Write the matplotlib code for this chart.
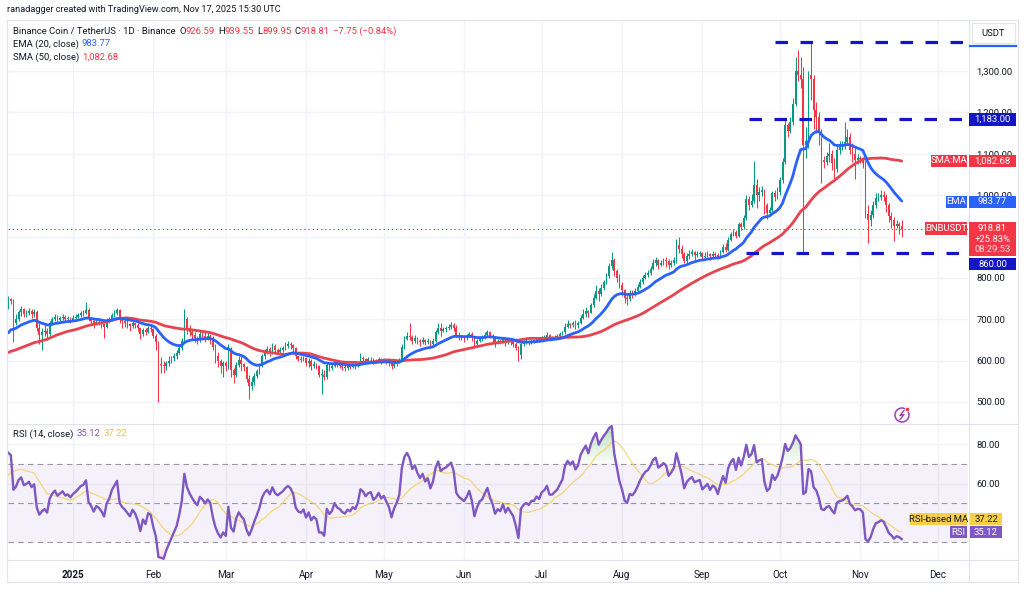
import numpy as np
import pandas as pd
import matplotlib
matplotlib.use("Agg")
import matplotlib.pyplot as plt
from matplotlib.patches import Rectangle, Circle
from matplotlib.transforms import IdentityTransform

# ---------------- data ----------------
start_date = "2024-12-07"
first_open = 730

# daily closes Oct 18 - Dec 6 2024 (indicator warm-up, not drawn)
warmup_closes = [600, 598, 605, 598, 595, 598, 600,
                 585, 590, 595, 600, 603, 598, 580,
                 575, 570, 555, 560, 570, 575, 590,
                 595, 600, 610, 625, 640, 630, 610,
                 615, 610, 608, 620, 615, 622, 630,
                 635, 640, 620, 610, 615, 625, 640,
                 650, 658, 655, 650, 670, 740, 720, 730]

closes = [748, 745, 692, 700, 718, 725, 712,
          715, 720, 712, 718, 678, 662, 668,
          672, 665, 690, 700, 706, 698, 702,
          706, 700, 702, 698, 703, 706, 710,
          714, 716, 722, 700, 695, 688, 694,
          692, 688, 682, 695, 700, 710, 716,
          722, 700, 695, 692, 688, 684, 690,
          686, 678, 664, 674, 668, 678, 676,
          660, 645, 592, 590, 586, 594, 600,
          606, 612, 618, 630, 648, 700, 680,
          670, 662, 655, 650, 664, 660, 654,
          660, 655, 632, 612, 598, 588, 594,
          586, 628, 578, 566, 590, 602, 592,
          584, 556, 538, 548, 562, 574, 588,
          610, 622, 628, 620, 636, 626, 622,
          626, 630, 636, 640, 637, 630, 610,
          604, 602, 606, 594, 600, 588, 592,
          588, 566, 566, 560, 590, 582, 586,
          596, 590, 588, 584, 582, 586, 584,
          588, 586, 592, 606, 604, 600, 603,
          604, 598, 600, 604, 600, 602, 598,
          594, 586, 592, 596, 602, 632, 652,
          660, 656, 648, 654, 648, 644, 650,
          644, 648, 640, 648, 668, 680, 672,
          676, 678, 682, 686, 680, 662, 658,
          656, 654, 658, 664, 656, 640, 648,
          654, 656, 662, 668, 660, 654, 644,
          648, 646, 652, 644, 648, 644, 640,
          630, 614, 640, 644, 646, 644, 648,
          648, 652, 650, 656, 658, 662, 656,
          656, 658, 660, 664, 668, 682, 688,
          686, 690, 686, 690, 704, 712, 720,
          716, 735, 752, 768, 760, 775, 790,
          805, 828, 842, 816, 800, 782, 770,
          752, 748, 764, 762, 768, 778, 790,
          800, 808, 812, 822, 836, 842, 832,
          836, 842, 840, 830, 836, 844, 880,
          870, 858, 840, 852, 858, 862, 856,
          858, 860, 850, 854, 858, 852, 858,
          856, 850, 862, 874, 868, 892, 905,
          912, 902, 930, 922, 945, 990, 975,
          985, 1025, 1000, 1008, 1012, 975, 958,
          965, 1005, 995, 1008, 1036, 1080, 1170,
          1155, 1176, 1220, 1300, 1290, 1280, 1120,
          1130, 1290, 1280, 1205, 1190, 1150, 1085,
          1080, 1095, 1100, 1078, 1062, 1110, 1118,
          1120, 1128, 1140, 1110, 1100, 1085, 1090,
          1088, 1078, 955, 940, 952, 975, 992,
          995, 1000, 995, 975, 950, 940, 925,
          930, 926.59, 918.81]

highs = [755, 752, 748, 712, 722, 732, 728,
         722, 728, 725, 725, 722, 690, 680,
         690, 680, 695, 705, 712, 710, 708,
         712, 710, 708, 706, 710, 712, 715,
         720, 722, 742, 726, 705, 700, 700,
         698, 696, 690, 702, 706, 715, 722,
         728, 724, 705, 700, 698, 692, 695,
         692, 690, 680, 680, 678, 684, 686,
         680, 664, 648, 608, 598, 600, 610,
         612, 618, 625, 638, 655, 725, 705,
         685, 675, 668, 660, 672, 670, 668,
         668, 665, 660, 640, 620, 605, 600,
         600, 640, 632, 582, 596, 612, 615,
         595, 588, 565, 560, 570, 580, 595,
         615, 628, 635, 632, 642, 640, 630,
         632, 636, 645, 648, 645, 640, 632,
         612, 610, 612, 608, 606, 605, 598,
         595, 590, 580, 578, 596, 592, 592,
         600, 600, 596, 592, 590, 590, 590,
         592, 594, 598, 618, 612, 606, 608,
         608, 606, 604, 608, 606, 606, 604,
         600, 598, 596, 600, 606, 640, 660,
         668, 690, 662, 662, 658, 652, 656,
         652, 654, 650, 655, 675, 692, 690,
         682, 684, 688, 694, 690, 685, 668,
         662, 660, 664, 670, 668, 660, 652,
         658, 662, 668, 675, 672, 664, 656,
         652, 652, 658, 654, 652, 650, 648,
         644, 636, 644, 650, 652, 650, 652,
         652, 656, 656, 660, 663, 668, 664,
         660, 662, 664, 668, 672, 690, 698,
         692, 696, 698, 695, 710, 725, 730,
         722, 740, 762, 782, 775, 785, 795,
         812, 835, 862, 848, 822, 810, 790,
         772, 760, 770, 770, 775, 785, 798,
         806, 815, 818, 828, 845, 850, 846,
         842, 848, 850, 845, 842, 850, 895,
         898, 880, 862, 860, 868, 870, 866,
         864, 866, 862, 862, 866, 860, 864,
         862, 860, 868, 882, 885, 900, 912,
         918, 915, 935, 935, 952, 1000, 998,
         1002, 1082, 1040, 1020, 1022, 1015, 982,
         972, 1010, 1012, 1020, 1045, 1090, 1185,
         1175, 1190, 1235, 1335, 1350, 1335, 1310,
         1165, 1300, 1370, 1290, 1225, 1200, 1160,
         1095, 1105, 1125, 1110, 1090, 1120, 1130,
         1130, 1176, 1160, 1150, 1125, 1115, 1100,
         1095, 1092, 1085, 975, 965, 985, 1005,
         1005, 1012, 1010, 1002, 980, 960, 948,
         940, 936, 939.55]

lows = [725, 738, 645, 685, 695, 708, 705,
        706, 710, 702, 706, 672, 640, 625,
        660, 650, 660, 685, 695, 690, 692,
        698, 694, 694, 690, 695, 700, 702,
        706, 708, 712, 695, 685, 680, 685,
        686, 680, 655, 678, 690, 696, 705,
        710, 690, 680, 682, 680, 672, 680,
        680, 672, 652, 660, 662, 666, 668,
        654, 625, 500, 570, 570, 578, 588,
        594, 600, 605, 615, 625, 645, 665,
        660, 652, 645, 640, 645, 650, 645,
        650, 640, 625, 595, 585, 570, 560,
        575, 580, 560, 545, 560, 585, 575,
        575, 548, 508, 528, 540, 558, 568,
        585, 605, 615, 612, 615, 620, 615,
        618, 622, 626, 630, 628, 622, 605,
        598, 596, 598, 588, 585, 578, 582,
        580, 560, 520, 552, 555, 575, 578,
        584, 585, 582, 578, 574, 578, 580,
        582, 580, 585, 590, 598, 594, 596,
        598, 592, 594, 598, 592, 596, 592,
        588, 580, 582, 588, 594, 600, 628,
        650, 650, 640, 642, 640, 636, 640,
        638, 640, 630, 638, 645, 665, 660,
        668, 670, 675, 676, 672, 656, 650,
        650, 646, 650, 656, 648, 635, 638,
        644, 648, 652, 658, 655, 645, 632,
        640, 640, 642, 636, 640, 638, 632,
        625, 600, 605, 636, 640, 638, 640,
        642, 645, 644, 648, 652, 655, 650,
        650, 652, 655, 658, 662, 665, 678,
        678, 682, 676, 680, 688, 700, 706,
        706, 714, 730, 748, 745, 756, 770,
        785, 800, 822, 805, 790, 775, 755,
        740, 735, 745, 752, 755, 765, 775,
        785, 798, 802, 808, 818, 828, 822,
        828, 832, 826, 822, 826, 832, 835,
        860, 848, 835, 836, 846, 852, 842,
        850, 852, 842, 845, 850, 844, 848,
        850, 845, 848, 860, 862, 866, 890,
        902, 896, 900, 915, 918, 940, 965,
        972, 980, 968, 985, 998, 955, 942,
        952, 960, 985, 990, 1000, 1030, 1075,
        1140, 1150, 1170, 1215, 1275, 1260, 860,
        1090, 1115, 1230, 1160, 1150, 1120, 1030,
        1065, 1072, 1080, 1060, 1040, 1055, 1100,
        1110, 1112, 1120, 1100, 1080, 1040, 1075,
        1078, 1065, 945, 885, 925, 945, 968,
        985, 988, 985, 960, 935, 920, 888,
        920, 905, 899.95]

level_values = [1370, 1183, 860]
level_start_dates = ["2025-09-29", "2025-09-19", "2025-09-18"]
price_ticks = [500, 600, 700, 800, 900, 1000, 1100, 1200, 1300]
month_labels = ["2025", "Feb", "Mar", "Apr", "May", "Jun", "Jul", "Aug", "Sep", "Oct", "Nov", "Dec"]
ema_value, sma_value = 983.77, 1082.68
rsi_value, rsi_ma_value = 35.12, 37.22
last_close, change_pct, countdown = 918.81, "+25.83%", "08:29:53"

# ---------------- indicators ----------------
nw = len(warmup_closes)
allc = pd.Series(warmup_closes + closes, dtype=float)
ema = allc.ewm(span=20, adjust=False).mean().values[nw:]
sma = allc.rolling(50, min_periods=1).mean().values[nw:]
d = allc.diff()
gain = d.clip(lower=0).fillna(0)
loss = (-d.clip(upper=0)).fillna(0)
ag = gain.ewm(alpha=1 / 14, adjust=False).mean()
al = loss.ewm(alpha=1 / 14, adjust=False).mean()
rsi_all = 100 - 100 / (1 + ag / al)
rsi_ma_all = rsi_all.rolling(14).mean()
rsi = rsi_all.values[nw:]
rsi_ma = rsi_ma_all.values[nw:]

n = len(closes)
day = np.arange(n)
c = np.array(closes, float)
o = np.array([first_open] + closes[:-1], float)
hi = np.array(highs, float)
lo = np.array(lows, float)
start = pd.Timestamp(start_date)

# ---------------- figure ----------------
W, H = 1024, 598
FONT = ["Roboto", "DejaVu Sans"]
plt.rcParams["font.family"] = FONT
plt.rcParams["lines.scale_dashes"] = False
TXT = "#131722"
UP, DN = "#089981", "#f23645"
GRID = "#f0f3fa"
LINE = "#e0e3eb"
LVL = "#1414c8"
FS = 6.8

fig = plt.figure(figsize=(W / 100, H / 100), dpi=100)
fig.patch.set_facecolor("white")


def rect(x0, y0, x1, y1):
    return [x0 / W, 1 - y1 / H, (x1 - x0) / W, (y1 - y0) / H]


ax = fig.add_axes(rect(8, 20, 968, 424))
ax2 = fig.add_axes(rect(8, 424, 968, 560))
XL = (-0.1, 370.6)
for a in (ax, ax2):
    a.set_xlim(*XL)
    for s in a.spines.values():
        s.set_visible(False)
    a.set_facecolor("none")

month_days = [(pd.Timestamp(2025, m, 1) - start).days for m in range(1, 13)]

# price pane
ax.set_ylim(446.8, 1423.3)
ax.set_xticks(month_days)
ax.set_xticklabels([])
ax.tick_params(axis="x", length=0)
ax.yaxis.tick_right()
ax.set_yticks(price_ticks)
ax.set_yticklabels(["" if v == 900 else f"{v:,.2f}" for v in price_ticks], fontsize=FS, color=TXT)
ax.tick_params(axis="y", length=0, pad=6)
ax.grid(True, color=GRID, lw=1)
ax.set_axisbelow(True)

cols = np.where(c >= o, UP, DN)
ax.vlines(day, lo, hi, colors=cols, lw=0.75, zorder=2)
ax.bar(day, np.maximum(np.abs(c - o), 1.2), bottom=np.minimum(o, c), width=0.66,
       color=cols, lw=0, zorder=3)
ax.plot(day, sma, color="#e8434e", lw=2.0, zorder=4, solid_capstyle="round")
ax.plot(day, ema, color="#2962ff", lw=2.0, zorder=5, solid_capstyle="round")
ax.axhline(last_close, color=DN, lw=0.7, ls=(0, (1, 2)), zorder=1)
for v, sd in zip(level_values, level_start_dates):
    x0 = (pd.Timestamp(sd) - start).days
    ax.hlines(v, x0, XL[1], colors=LVL, lw=2.3, linestyles=(0, (9, 9)), zorder=6)

# RSI pane
ax2.set_ylim(20.8, 90.5)
ax2.set_xticks(month_days)
ax2.set_xticklabels(month_labels, fontsize=FS + 0.3, color=TXT)
ax2.get_xticklabels()[0].set_fontweight("bold")
ax2.tick_params(axis="x", length=0, pad=7)
ax2.yaxis.tick_right()
ax2.set_yticks([60, 80])
ax2.set_yticklabels(["60.00", "80.00"], fontsize=FS, color=TXT)
ax2.tick_params(axis="y", length=0, pad=6)
ax2.grid(True, color=GRID, lw=1)
ax2.set_axisbelow(True)
ax2.axhspan(30, 70, color="#7e57c2", alpha=0.08, lw=0)
for lv in (70, 50, 30):
    ax2.axhline(lv, color="#9598a1", lw=0.8, ls=(0, (4, 3)))
# gradient-like overbought / oversold fills
for k in range(10):
    lo_b, hi_b = 70 + 2 * k, 72 + 2 * k
    ax2.fill_between(day, lo_b, np.clip(rsi, lo_b, hi_b), where=rsi > lo_b, interpolate=True,
                     color="#4caf50", alpha=0.04 + 0.035 * k, lw=0)
    hi_r, lo_r = 30 - 2 * k, 28 - 2 * k
    ax2.fill_between(day, hi_r, np.clip(rsi, lo_r, hi_r), where=rsi < hi_r, interpolate=True,
                     color="#f23645", alpha=0.04 + 0.035 * k, lw=0)
ax2.plot(day, rsi_ma, color="#f5d36a", lw=0.9, alpha=0.9)
ax2.plot(day, rsi, color="#7e57c2", lw=1.7)

# ---------------- frame lines ----------------
def fline(x0, y0, x1, y1, color=LINE, lw=0.8):
    fig.add_artist(plt.Line2D([x0 / W, x1 / W], [1 - y0 / H, 1 - y1 / H], color=color, lw=lw,
                              transform=fig.transFigure))


fline(7, 20, 1018, 20)
fline(7, 582, 1018, 582)
fline(7, 20, 7, 582)
fline(1018, 20, 1018, 582)
fline(7, 424, 1018, 424)
fline(7, 560, 1018, 560)
fline(968.5, 20, 968.5, 582)


def box(x0, y0, x1, y1, color, z=10):
    fig.add_artist(Rectangle((x0 / W, 1 - y1 / H), (x1 - x0) / W, (y1 - y0) / H,
                             transform=fig.transFigure, color=color, lw=0, zorder=z))


def ftxt(x, y, s, color=TXT, size=FS, ha="left", weight="normal", z=11):
    return fig.text(x / W, 1 - y / H, s, color=color, fontsize=size, ha=ha, va="center",
                    fontweight=weight, zorder=z, family=FONT)


def ypx(a, v):
    return H - a.transData.transform((0, v))[1]


def axis_label(yc, text, color, tcolor="white", x0=969, x1=1016, h=12.5):
    box(x0, yc - h / 2, x1, yc + h / 2, color)
    ftxt((x0 + x1) / 2, yc, text, color=tcolor, ha="center")


# price-axis labels
y1183 = ypx(ax, level_values[1])
axis_label(y1183, f"{level_values[1]:,.2f}", LVL)
ysma = ypx(ax, sma_value)
axis_label(ysma, f"{sma_value:,.2f}", "#f23645")
box(931, ysma - 6.25, 967, ysma + 6.25, "#f23645")
ftxt(949, ysma, "SMA:MA", color="white", ha="center")
yema = ypx(ax, ema_value)
axis_label(yema, f"{ema_value:,.2f}", "#2962ff")
box(946, yema - 6.25, 967, yema + 6.25, "#2962ff")
ftxt(956.5, yema, "EMA", color="white", ha="center")
yp = ypx(ax, last_close)
box(969, yp - 6.5, 1016, yp + 27, "#f23645")
ftxt(992.5, yp, f"{last_close:.2f}", color="white", ha="center")
ftxt(992.5, yp + 10.5, change_pct, color="white", ha="center")
ftxt(992.5, yp + 21, countdown, color="#fde3e5", ha="center")
box(925, yp - 6.25, 967, yp + 6.25, "#f23645")
ftxt(946, yp, "BNBUSDT", color="white", ha="center")
y860 = ypx(ax, level_values[2]) + 11
axis_label(y860, f"{level_values[2]:,.2f}", LVL)

# USDT currency header
fig.add_artist(Rectangle((972 / W, 1 - 43 / H), 43 / W, 20 / H, transform=fig.transFigure,
                         facecolor="white", edgecolor=LINE, lw=0.8, zorder=10))
ftxt(993, 33, "USDT", ha="center")
fline(970, 46, 1016, 46, color="#2962ff", lw=1.6)

# RSI axis labels
yr = ypx(ax2, rsi_value)
box(950, yr - 5.8, 967, yr + 5.8, "#7e57c2")
ftxt(958.5, yr, "RSI", color="white", ha="center")
box(970, yr - 5.8, 1002, yr + 5.8, "#7e57c2")
ftxt(986, yr, f"{rsi_value:.2f}", color="white", ha="center")
ym = yr - 13
box(910, ym - 5.8, 967, ym + 5.8, "#f9cf4a")
ftxt(938.5, ym, "RSI-based MA", ha="center")
box(970, ym - 5.8, 1002, ym + 5.8, "#f9cf4a")
ftxt(986, ym, f"{rsi_ma_value:.2f}", ha="center")

# lightning icon (pixel coordinates)
cx, cy = 902, H - 415
fig.add_artist(Circle((cx, cy), 7, transform=IdentityTransform(),
                      facecolor="white", edgecolor="#9c3fb5", lw=1.1, zorder=10))
fig.add_artist(plt.Line2D([cx + 2, cx - 2, cx + 2, cx - 2], [cy + 4.5, cy - 0.5, cy + 0.5, cy - 4.5],
                          transform=IdentityTransform(), color="#9c3fb5", lw=1.0, zorder=11))
fig.add_artist(Circle((cx + 5.5, cy + 5.5), 2.2, transform=IdentityTransform(),
                      facecolor="#f23645", edgecolor="white", lw=0.5, zorder=12))

# ---------------- legends / header ----------------
fig.canvas.draw()
renderer = fig.canvas.get_renderer()


def seq(x, y, pieces, size=FS):
    for s, col, gap in pieces:
        t = ftxt(x, y, s, color=col, size=size)
        x += t.get_window_extent(renderer).width + gap
    return x


ftxt(7, 10, "ranadagger created with TradingView.com, Nov 17, 2025 15:30 UTC", size=6.6)
seq(13, 31, [("Binance Coin / TetherUS \u00b7 1D \u00b7 Binance", TXT, 4),
             ("O", TXT, 0), ("926.59", DN, 3), ("H", TXT, 0), ("939.55", DN, 3),
             ("L", TXT, 0), ("899.95", DN, 3), ("C", TXT, 0), ("918.81", DN, 3),
             ("\u22127.75 (\u22120.84%)", DN, 0)])
seq(13, 44, [("EMA (20, close)", TXT, 3), (f"{ema_value:.2f}", "#2962ff", 0)])
seq(13, 57, [("SMA (50, close)", TXT, 3), (f"{sma_value:,.2f}", "#f23645", 0)])
seq(13, 434, [("RSI (14, close)", TXT, 3), (f"{rsi_value:.2f}", "#7e57c2", 3),
              (f"{rsi_ma_value:.2f}", "#e8c24a", 0)])

fig.savefig("out.png", dpi=100)
